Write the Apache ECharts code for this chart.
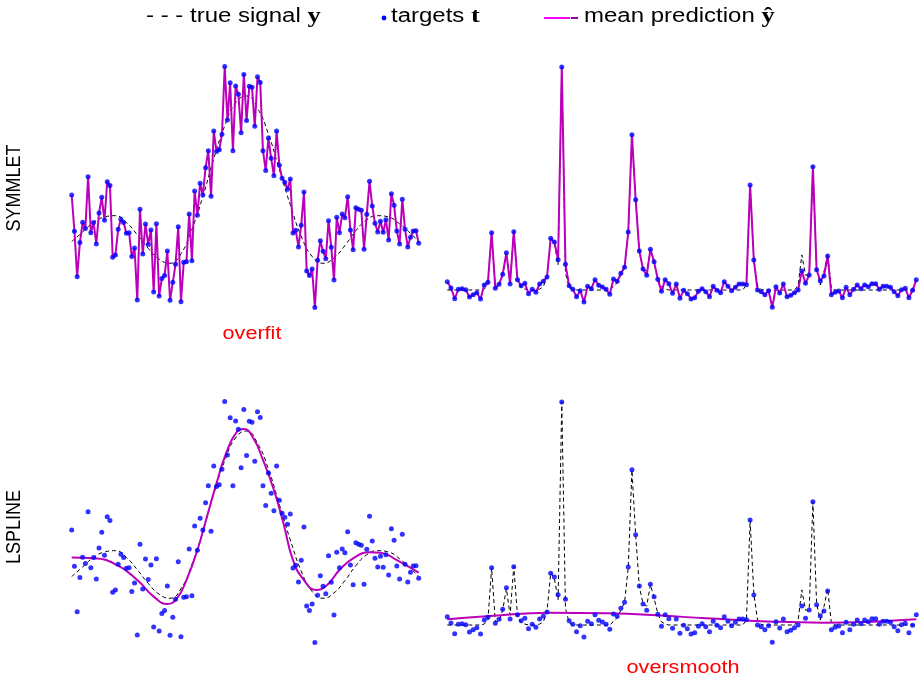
<!DOCTYPE html>
<html>
<head>
<meta charset="utf-8">
<script src="https://cdn.jsdelivr.net/npm/echarts@6/dist/echarts.min.js"></script>
<style>
  html, body { margin: 0; padding: 0; background: #ffffff; }
  #chart { width: 919px; height: 679px; }
</style>
</head>
<body>
<div id="chart"></div>
<script>
// Noisy targets for the sinc-like signal (128 samples, index 0..127)
const targetsLeft = [
  0.272, 0.005, -0.329, -0.078, 0.071, 0.025, 0.407, -0.005, 0.069, -0.088,
  0.140, 0.255, 0.086, 0.370, 0.341, -0.186, -0.169, 0.020, 0.093, 0.069,
  -0.010, -0.005, -0.181, -0.118, -0.500, 0.167, -0.162, 0.059, -0.091, 0.015,
  -0.441, 0.061, -0.471, -0.341, -0.319, -0.140, -0.502, -0.370, -0.238, 0.039,
  -0.512, -0.223, -0.218, 0.132, -0.211, 0.301, 0.123, 0.358, 0.272, 0.473,
  0.598, 0.262, 0.743, 0.591, 0.605, 0.718, 1.216, 0.824, 1.098, 0.598,
  1.074, 1.012, 0.730, 1.159, 0.819, 1.071, 1.064, 0.777, 1.142, 1.100,
  0.598, 0.453, 0.691, 0.542, 0.414, 0.743, 0.490, 0.395, 0.365, 0.314,
  0.390, -0.007, 0.012, -0.110, 0.049, 0.294, -0.287, -0.319, -0.272, -0.556,
  -0.208, -0.064, -0.142, -0.196, 0.083, -0.113, -0.353, 0.108, -0.005, 0.132,
  0.105, 0.260, 0.015, -0.130, 0.179, 0.167, 0.160, -0.127, 0.130, 0.373,
  0.191, 0.064, 0.000, 0.079, -0.002, 0.090, -0.059, 0.282, 0.196, 0.007,
  -0.088, 0.240, 0.020, -0.110, -0.039, 0.007, 0.010, -0.083
];

// Noisy targets for the bumps signal (128 samples)
const targetsRight = [
  0.185, 0.044, -0.193, 0.015, 0.030, 0.007, -0.156, -0.104, -0.059, -0.200,
  0.111, 0.170, 1.274, 0.037, 0.126, 0.348, 0.830, 0.133, 1.296, 0.230,
  0.096, 0.148, -0.081, 0.015, -0.052, 0.133, 0.193, 0.289, 1.148, 1.067,
  0.674, 4.956, 0.570, 0.096, 0.015, -0.148, -0.015, -0.267, 0.081, 0.030,
  0.230, 0.104, 0.067, 0.015, -0.096, 0.244, 0.193, 0.370, 0.504, 1.289,
  3.452, 2.007, 0.867, 0.467, 0.326, 0.904, 0.630, 0.237, -0.030, 0.230,
  0.141, -0.074, 0.133, -0.185, -0.007, -0.081, -0.200, -0.170, -0.030, 0.030,
  -0.037, -0.148, 0.081, -0.007, -0.059, 0.185, 0.081, -0.015, 0.059, 0.133,
  0.133, 0.119, 2.333, 0.667, 0.000, -0.037, -0.104, -0.015, -0.385, 0.074,
  -0.067, 0.133, -0.148, -0.119, -0.059, 0.000, 0.422, 0.148, 0.333, 2.741,
  0.452, 0.200, 0.311, 0.756, -0.104, -0.052, -0.022, -0.170, 0.059, -0.104,
  0.015, 0.111, 0.030, 0.111, 0.074, 0.141, 0.141, 0.015, 0.081, 0.081,
  0.059, -0.037, -0.126, 0.007, 0.037, -0.170, -0.007, 0.230
];

// True sinc-like signal, read at every 4th sample
const trueLeftIdx = [0, 4, 8, 12, 16, 20, 24, 28, 32, 36, 40, 44, 48, 52, 56, 60, 64,
  68, 72, 76, 80, 84, 88, 92, 96, 100, 104, 108, 112, 116, 120, 124, 127];
const trueLeftVal = [-0.07, 0.00, 0.07, 0.11, 0.12, 0.07, -0.02, -0.12, -0.20, -0.23,
  -0.16, 0.02, 0.26, 0.54, 0.78, 0.95, 1.00, 0.91, 0.72, 0.46, 0.20, -0.03, -0.18,
  -0.23, -0.19, -0.10, 0.01, 0.09, 0.12, 0.11, 0.06, -0.01, -0.07];

// True bumps signal at all 128 samples
const trueRight = [
  0, 0, 0, 0, 0, 0, 0, 0, 0, 0,
  0.02, 0.12, 1.27, 0.08, 0.08, 0.33, 0.81, 0.22, 1.30, 0.22,
  0.05, 0.02, 0, 0, 0, 0.02, 0.07, 0.30, 1.16, 1.04,
  0.56, 4.96, 0.37, 0.05, 0, 0, 0, 0, 0, 0,
  0, 0, 0, 0, 0, 0.08, 0.16, 0.33, 0.50, 1.28,
  3.44, 2.01, 0.85, 0.48, 0.42, 0.90, 0.59, 0.26, 0.07, 0.02,
  0, 0, 0, 0, 0, 0, 0, 0, 0, 0,
  0, 0, 0, 0, 0, 0, 0, 0, 0, 0,
  0, 0.11, 2.33, 0.70, 0.11, 0.01, 0, 0, 0, 0,
  0, 0, 0, 0, 0, 0.10, 0.78, 0.33, 0.33, 2.74,
  0.48, 0.11, 0.41, 0.80, 0.04, 0, 0, 0, 0, 0,
  0, 0, 0, 0, 0, 0, 0, 0, 0, 0,
  0, 0, 0, 0, 0, 0, 0, 0
];

// LSPLINE mean prediction (smooth curves), sample positions and values
const splineLeftIdx = [0, 8, 16.5, 24, 30, 35, 38.5, 42, 46, 49.5, 53, 56.5, 60.5, 63,
  66.5, 70, 74, 77.5, 81, 85, 89.5, 93.5, 98, 103, 109, 113, 119, 127];
const splineLeftVal = [0.069, 0.064, 0.015, -0.096, -0.218, -0.272, -0.230, -0.096, 0.125,
  0.370, 0.615, 0.836, 0.995, 1.015, 0.946, 0.787, 0.566, 0.321, 0.051, -0.096, -0.169,
  -0.132, -0.022, 0.064, 0.108, 0.105, 0.051, -0.042];
const splineRightIdx = [0, 11.6, 27.8, 43.1, 56.7, 70.2, 88.3, 101.8, 115.3, 127];
const splineRightVal = [0.126, 0.200, 0.274, 0.259, 0.215, 0.148, 0.074, 0.052, 0.074, 0.126];

const rowLabels = ['SYMMLET', 'LSPLINE'];
const panelNotes = ['overfit', 'oversmooth'];
const legendLabels = ['true signal', 'targets', 'mean prediction'];
const legendSymbols = ['y', 't', 'ŷ'];

const pairs = (vals) => vals.map((v, i) => [i, v]);
const zipXY = (xs, ys) => xs.map((x, i) => [x, ys[i]]);

const SANS = "'Liberation Sans', Arial, Helvetica, sans-serif";
const SERIF = "'Liberation Serif', 'DejaVu Serif', serif";
const MAGENTA = '#bb00bb';
const BLUE = '#0000ff';

const grids = [
  { left: 71.7, top: 62, width: 347, height: 251.6 },
  { left: 447.3, top: 56, width: 469, height: 261 },
  { left: 71.7, top: 397, width: 347, height: 251.6 },
  { left: 447.3, top: 391, width: 469, height: 261 }
];
const yRanges = [[-0.6, 1.25], [-0.6, 5.2], [-0.6, 1.25], [-0.6, 5.2]];

function dashedTrue(idx, data, smooth) {
  return {
    type: 'line', xAxisIndex: idx, yAxisIndex: idx, data: data, smooth: smooth,
    showSymbol: false, silent: true, z: 2,
    lineStyle: { color: '#000000', width: 1, type: [4, 3] }
  };
}
function prediction(idx, data, smooth) {
  return {
    type: 'line', xAxisIndex: idx, yAxisIndex: idx, data: data, smooth: smooth,
    showSymbol: false, silent: true, z: 3,
    lineStyle: { color: MAGENTA, width: 2 }
  };
}
function dots(idx, data) {
  return {
    type: 'scatter', xAxisIndex: idx, yAxisIndex: idx, data: data,
    symbol: 'circle', symbolSize: 5, silent: true, z: 4,
    itemStyle: { color: BLUE }
  };
}

const series = [
  // SYMMLET, sinc signal: prediction follows every target
  dashedTrue(0, zipXY(trueLeftIdx, trueLeftVal), true),
  prediction(0, pairs(targetsLeft), false),
  dots(0, pairs(targetsLeft)),
  // SYMMLET, bumps signal
  dashedTrue(1, pairs(trueRight), false),
  prediction(1, pairs(targetsRight), false),
  dots(1, pairs(targetsRight)),
  // LSPLINE, sinc signal
  dashedTrue(2, zipXY(trueLeftIdx, trueLeftVal), true),
  prediction(2, zipXY(splineLeftIdx, splineLeftVal), true),
  dots(2, pairs(targetsLeft)),
  // LSPLINE, bumps signal
  dashedTrue(3, pairs(trueRight), false),
  prediction(3, zipXY(splineRightIdx, splineRightVal), true),
  dots(3, pairs(targetsRight))
];

function label(text, x, y, opts) {
  return Object.assign({
    type: 'text', x: x, y: y, silent: true,
    style: Object.assign({
      text: text, fontFamily: SANS, fontSize: 20, fill: '#000000',
      align: 'left', verticalAlign: 'middle',
      textAlign: 'left', textVerticalAlign: 'middle'
    }, opts.style || {})
  }, opts.el || {});
}

const richSymbol = { b: { fontFamily: SERIF, fontWeight: 'bold', fontSize: 22, fill: '#000000' } };
const LEGEND_Y = 16;

const graphic = [
  // legend
  label('- - - ' + legendLabels[0] + ' {b|' + legendSymbols[0] + '}', 146, LEGEND_Y,
    { el: { scaleX: 1.2 }, style: { rich: richSymbol } }),
  { type: 'circle', silent: true, shape: { cx: 384, cy: 18, r: 2.4 }, style: { fill: BLUE } },
  label(legendLabels[1] + ' {b|' + legendSymbols[1] + '}', 391, LEGEND_Y,
    { el: { scaleX: 1.2 }, style: { rich: richSymbol } }),
  { type: 'line', silent: true, shape: { x1: 544, y1: 18, x2: 570, y2: 18 },
    style: { stroke: '#ff00ff', lineWidth: 2 } },
  { type: 'line', silent: true, shape: { x1: 571, y1: 18, x2: 578, y2: 18 },
    style: { stroke: '#990099', lineWidth: 2 } },
  label(legendLabels[2] + ' {b|' + legendSymbols[2] + '}', 584, LEGEND_Y,
    { el: { scaleX: 1.2 }, style: { rich: richSymbol } }),
  // row labels
  label(rowLabels[0], 14, 188, { el: { rotation: Math.PI / 2, scaleY: 1.15 },
    style: { fontSize: 18, align: 'center', textAlign: 'center' } }),
  label(rowLabels[1], 14, 527, { el: { rotation: Math.PI / 2, scaleY: 1.15 },
    style: { fontSize: 18, align: 'center', textAlign: 'center' } }),
  // panel notes
  label(panelNotes[0], 252, 334, { el: { scaleX: 1.2 },
    style: { fontSize: 18, fill: '#ff0000', align: 'center', textAlign: 'center' } }),
  label(panelNotes[1], 683, 668, { el: { scaleX: 1.2 },
    style: { fontSize: 18, fill: '#ff0000', align: 'center', textAlign: 'center' } })
];

const chart = echarts.init(document.getElementById('chart'), null, { renderer: 'canvas' });
chart.setOption({
  animation: false,
  backgroundColor: '#ffffff',
  grid: grids,
  xAxis: grids.map((g, i) => ({ type: 'value', gridIndex: i, min: 0, max: 127, show: false })),
  yAxis: grids.map((g, i) => ({ type: 'value', gridIndex: i, min: yRanges[i][0], max: yRanges[i][1],
    show: false, splitLine: { show: false } })),
  series: series,
  graphic: graphic
});
</script>
</body>
</html>
